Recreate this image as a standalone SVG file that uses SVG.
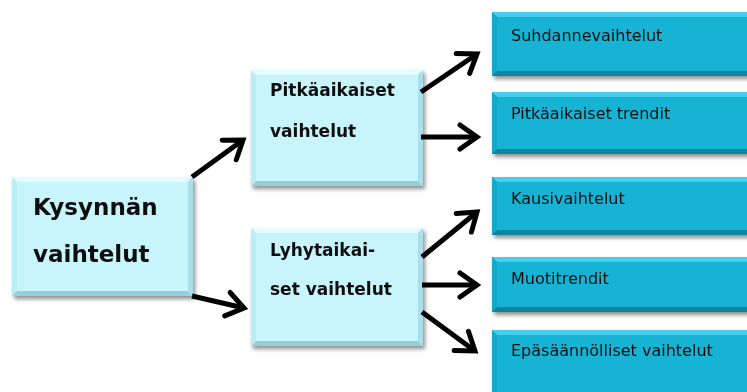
<svg xmlns="http://www.w3.org/2000/svg" width="747" height="392" viewBox="0 0 747 392">
  <defs>
    <filter id="sh" x="-10%" y="-10%" width="125%" height="130%">
      <feGaussianBlur in="SourceAlpha" stdDeviation="2"/>
      <feOffset dx="2" dy="3" result="b"/>
      <feComponentTransfer><feFuncA type="linear" slope="0.45"/></feComponentTransfer>
      <feMerge><feMergeNode/><feMergeNode in="SourceGraphic"/></feMerge>
    </filter>
    <marker id="ah" markerUnits="userSpaceOnUse" markerWidth="50" markerHeight="50" viewBox="-25 -25 50 50" refX="0" refY="0" orient="auto">
      <path d="M-17,-12 L0,0 L-17,12" fill="none" stroke="#000" stroke-width="5" stroke-linejoin="miter" stroke-linecap="round"/>
    </marker>
    <style>
      .lf{fill:#c7f5fb}
      .lt{fill:#e3fcff}
      .ll{fill:#b8eef6}
      .lr{fill:#a8dfe9}
      .lb{fill:#97d0db}
      .bf{fill:#14b3d4}
      .bt{fill:#45cfeb}
      .bl{fill:#12a8c9}
      .br{fill:#0f97b6}
      .bb{fill:#0c86a2}
      .t1{font-family:"DejaVu Sans",Verdana,sans-serif;font-weight:bold;font-size:23px;fill:#111}
      .t2{font-family:"DejaVu Sans",Verdana,sans-serif;font-weight:bold;font-size:17px;fill:#111}
      .t3{font-family:"DejaVu Sans",Verdana,sans-serif;font-size:16px;fill:#111}
      .cn line{stroke:#000;stroke-width:5;marker-end:url(#ah)}
    </style>
  </defs>
  <rect width="747" height="392" fill="#fff"/>

  <g id="kysynnan" filter="url(#sh)">
    <rect class="lf" x="12" y="177" width="181" height="119"/>
    <polygon class="lt" points="12,177 193,177 188,182 17,182"/>
    <polygon class="ll" points="12,177 17,182 17,291 12,296"/>
    <polygon class="lr" points="193,177 193,296 188,291 188,182"/>
    <polygon class="lb" points="12,296 193,296 188,291 17,291"/>
    <text class="t1" x="33" y="215">Kysynnän</text>
    <text class="t1" x="33" y="262">vaihtelut</text>
  </g>

  <g id="pitkaaikaiset" filter="url(#sh)">
    <rect class="lf" x="251" y="70" width="172" height="116"/>
    <polygon class="lt" points="251,70 423,70 418,75 256,75"/>
    <polygon class="ll" points="251,70 256,75 256,181 251,186"/>
    <polygon class="lr" points="423,70 423,186 418,181 418,75"/>
    <polygon class="lb" points="251,186 423,186 418,181 256,181"/>
    <text class="t2" x="270" y="96">Pitkäaikaiset</text>
    <text class="t2" x="270" y="137">vaihtelut</text>
  </g>

  <g id="lyhytaikaiset" filter="url(#sh)">
    <rect class="lf" x="251" y="228" width="172" height="118"/>
    <polygon class="lt" points="251,228 423,228 418,233 256,233"/>
    <polygon class="ll" points="251,228 256,233 256,341 251,346"/>
    <polygon class="lr" points="423,228 423,346 418,341 418,233"/>
    <polygon class="lb" points="251,346 423,346 418,341 256,341"/>
    <text class="t2" x="270" y="256">Lyhytaikai-</text>
    <text class="t2" x="270" y="295">set vaihtelut</text>
  </g>

  <g id="suhdanne" filter="url(#sh)">
    <rect class="bf" x="492" y="12" width="262" height="64"/>
    <polygon class="bt" points="492,12 754,12 749,17 497,17"/>
    <polygon class="bl" points="492,12 497,17 497,71 492,76"/>
    <polygon class="bb" points="492,76 754,76 749,71 497,71"/>
    <text class="t3" x="511" y="41">Suhdannevaihtelut</text>
  </g>

  <g id="trendit" filter="url(#sh)">
    <rect class="bf" x="492" y="92" width="262" height="62"/>
    <polygon class="bt" points="492,92 754,92 749,97 497,97"/>
    <polygon class="bl" points="492,92 497,97 497,149 492,154"/>
    <polygon class="bb" points="492,154 754,154 749,149 497,149"/>
    <text class="t3" x="511" y="119">Pitkäaikaiset trendit</text>
  </g>

  <g id="kausi" filter="url(#sh)">
    <rect class="bf" x="492" y="177" width="262" height="58"/>
    <polygon class="bt" points="492,177 754,177 749,182 497,182"/>
    <polygon class="bl" points="492,177 497,182 497,230 492,235"/>
    <polygon class="bb" points="492,235 754,235 749,230 497,230"/>
    <text class="t3" x="511" y="204">Kausivaihtelut</text>
  </g>

  <g id="muoti" filter="url(#sh)">
    <rect class="bf" x="492" y="257" width="262" height="55"/>
    <polygon class="bt" points="492,257 754,257 749,262 497,262"/>
    <polygon class="bl" points="492,257 497,262 497,307 492,312"/>
    <polygon class="bb" points="492,312 754,312 749,307 497,307"/>
    <text class="t3" x="511" y="284">Muotitrendit</text>
  </g>

  <g id="epasaannolliset" filter="url(#sh)">
    <rect class="bf" x="492" y="330" width="262" height="70"/>
    <polygon class="bt" points="492,330 754,330 749,335 497,335"/>
    <polygon class="bl" points="492,330 497,335 497,400 492,400"/>
    <text class="t3" x="511" y="356">Epäsäännölliset vaihtelut</text>
  </g>

  <g id="connectors" class="cn">
    <line x1="192" y1="177" x2="243" y2="140"/>
    <line x1="192" y1="296" x2="244" y2="308"/>
    <line x1="421" y1="92" x2="477" y2="54"/>
    <line x1="421" y1="137" x2="477" y2="137"/>
    <line x1="422" y1="257" x2="477" y2="212"/>
    <line x1="422" y1="285" x2="477" y2="285"/>
    <line x1="422" y1="312" x2="475" y2="351"/>
  </g>
</svg>
